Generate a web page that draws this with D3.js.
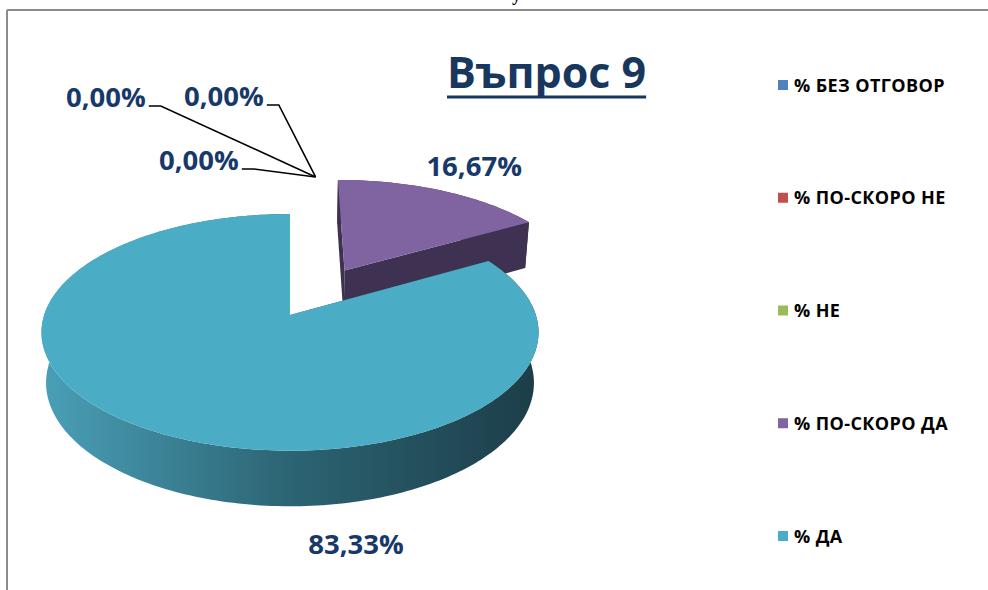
<!DOCTYPE html>
<html>
<head>
<meta charset="utf-8">
<script src="https://cdn.jsdelivr.net/npm/d3@7"></script>
<style>
  html, body { margin: 0; padding: 0; background: #fff; }
  svg { display: block; }
  text { font-family: "Open Sans", "Noto Sans", sans-serif; font-weight: bold; }
</style>
</head>
<body>
<div id="chart"></div>
<script>
// data
var categories = ["% БЕЗ ОТГОВОР", "% ПО-СКОРО НЕ", "% НЕ", "% ПО-СКОРО ДА", "% ДА"];
var values = [0, 0, 0, 16.67, 83.33];
var colors = ["#4F81BD", "#C0504D", "#9BBB59", "#8064A2", "#4BACC6"];
var title = "Въпрос 9";

// layout
var width = 988, height = 590;
var explode = [0, 0, 0, 0.47, 0];
var labelColor = "#17396A";

var svg = d3.select("#chart").append("svg")
    .attr("width", width)
    .attr("height", height);

// frame of the chart area
svg.append("line").attr("x1", 7).attr("x2", width).attr("y1", 10).attr("y2", 10)
    .attr("stroke", "#8c8c8c").attr("stroke-width", 2);
svg.append("line").attr("x1", 7).attr("x2", 7).attr("y1", 10).attr("y2", height)
    .attr("stroke", "#8c8c8c").attr("stroke-width", 2);
// bit of text from the page above, cut off
svg.append("text").attr("x", 512).attr("y", 0.5)
    .style("font-family", "Liberation Serif").style("font-size", "18px").text("y");

// simple perspective projection of the pie
var elev = 28.1 * Math.PI / 180;
var sE = Math.sin(elev), cE = Math.cos(elev);
var dist = 6.02, focal = 1480, cx = 290, cy = 315, thick = 0.235;

function project(u, v, w) {
    var yc = v * sE - w * cE;
    var zc = dist - v * cE - w * sE;
    return [cx + focal * u / zc, cy + focal * yc / zc];
}

var pie = d3.pie().sort(null).value(function(d) { return d; });
var arcs = pie(values);

var defs = svg.append("defs");
var grad = defs.append("linearGradient").attr("id", "sideCyan")
    .attr("gradientUnits", "userSpaceOnUse")
    .attr("x1", 40).attr("x2", 540).attr("y1", 0).attr("y2", 0);
grad.append("stop").attr("offset", 0).attr("stop-color", "#4AA0B8");
grad.append("stop").attr("offset", 0.5).attr("stop-color", "#2C6473");
grad.append("stop").attr("offset", 1).attr("stop-color", "#1C3D48");

var sideFill = ["#2E4D72", "#7A3533", "#6A8236", "#3F3151", "url(#sideCyan)"];

var line = d3.line();

function rim(d, i, w) {
    var m = (d.startAngle + d.endAngle) / 2;
    var ox = explode[i] * Math.sin(m), ov = -explode[i] * Math.cos(m);
    var n = Math.max(2, Math.ceil((d.endAngle - d.startAngle) / 0.02));
    var pts = d3.range(n + 1).map(function(k) {
        var a = d.startAngle + (d.endAngle - d.startAngle) * k / n;
        return project(ox + Math.sin(a), ov - Math.cos(a), w);
    });
    return { pts: pts, center: project(ox, ov, w) };
}

// back slices first
var order = arcs.map(function(d, i) { return i; })
    .filter(function(i) { return values[i] > 0; })
    .sort(function(a, b) {
        return Math.cos((arcs[b].startAngle + arcs[b].endAngle) / 2) -
               Math.cos((arcs[a].startAngle + arcs[a].endAngle) / 2);
    });

var pieG = svg.append("g");
order.forEach(function(i) {
    var d = arcs[i];
    var top = rim(d, i, 0), bot = rim(d, i, -thick);
    var g = pieG.append("g");
    // radial faces
    [0, top.pts.length - 1].forEach(function(k) {
        g.append("path")
            .attr("d", line([top.center, top.pts[k], bot.pts[k], bot.center]) + "Z")
            .attr("fill", sideFill[i]);
    });
    // outer wall
    g.append("path")
        .attr("d", line(top.pts.concat(bot.pts.slice().reverse())) + "Z")
        .attr("fill", sideFill[i]);
    // top face
    g.append("path")
        .attr("d", line([top.center].concat(top.pts)) + "Z")
        .attr("fill", colors[i]);
});

function fmt(v) { return v.toFixed(2).replace(".", ",") + "%"; }

// data labels
var labelG = svg.append("g").attr("fill", labelColor).style("font-size", "27.5px");

// purple slice label, placed outside the exploded slice
var mP = (arcs[3].startAngle + arcs[3].endAngle) / 2;
var pP = project(explode[3] * Math.sin(mP) + 1.33 * Math.sin(mP),
                 -explode[3] * Math.cos(mP) - 1.33 * Math.cos(mP), 0);
labelG.append("text").attr("x", pP[0] + 4).attr("y", pP[1] + 8)
    .attr("text-anchor", "middle").text(fmt(values[3]));

labelG.append("text").attr("x", 356).attr("y", 554)
    .attr("text-anchor", "middle").text(fmt(values[4]));

// zero slices: labels with leader lines
var zeroPos = [[66, 107], [184, 106], [159, 170]];
var anchor = project(1.45 * Math.sin(0.087), -1.45 * Math.cos(0.087), 0);
zeroPos.forEach(function(p, k) {
    var t = labelG.append("text").attr("x", p[0]).attr("y", p[1]).text(fmt(values[k]));
    var x0 = p[0] + t.node().getComputedTextLength() + 3;
    svg.append("path")
        .attr("d", line([[x0, p[1] - 1], [x0 + 12, p[1] - 1], anchor]))
        .attr("fill", "none").attr("stroke", "#000").attr("stroke-width", 1.6);
});

// title
var tt = svg.append("text").attr("x", 447).attr("y", 88)
    .attr("fill", "#17375E").style("font-size", "43px").text(title);
var tw = tt.node().getComputedTextLength();
svg.append("rect").attr("x", 447).attr("y", 95.5).attr("width", tw).attr("height", 3)
    .attr("fill", "#17375E");

// legend
var ly = d3.scalePoint().domain(categories).range([85, 536]);
var leg = svg.append("g").selectAll("g").data(categories).enter().append("g")
    .attr("transform", function(d) { return "translate(778," + ly(d) + ")"; });
leg.append("rect").attr("x", 0).attr("y", -5).attr("width", 10).attr("height", 10)
    .attr("fill", function(d, i) { return colors[i]; });
leg.append("text").attr("x", 16).attr("y", 6.5)
    .style("font-size", "18px").style("letter-spacing", "0.4px").attr("fill", "#000")
    .text(function(d) { return d; });
</script>
</body>
</html>
